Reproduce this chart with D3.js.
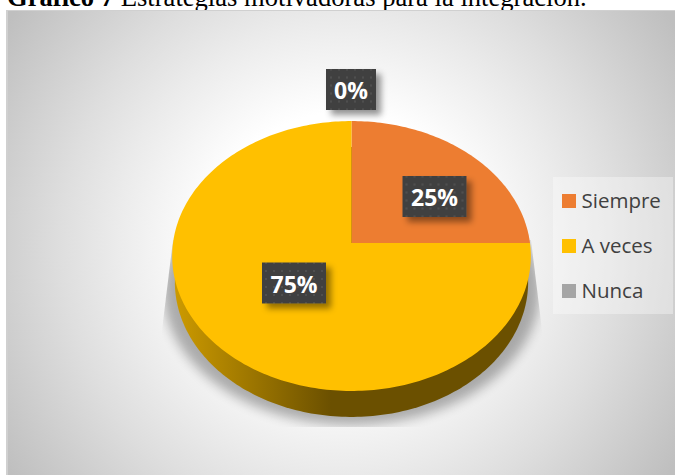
<!DOCTYPE html>
<html><head><meta charset="utf-8">
<script src="https://cdn.jsdelivr.net/npm/d3@7/dist/d3.min.js"></script>
<style>html,body{margin:0;padding:0;background:#fff;overflow:hidden}svg{display:block}</style>
</head><body><svg id="c" width="675" height="475"></svg>
<script>
const categories = ["Siempre", "A veces", "Nunca"];
const values = [25, 75, 0];
const colors = ["#ED7D31", "#FFC000", "#A5A5A5"];
const svg = d3.select("#c");
const defs = svg.append("defs");
const bg = defs.append("radialGradient").attr("id","bg").attr("gradientUnits","userSpaceOnUse")
  .attr("cx",340).attr("cy",245).attr("r",400);
[[0.33,"#ffffff"],[0.56,"#ebebeb"],[0.7,"#dedede"],[1,"#bfbfbf"]].forEach(s=>bg.append("stop").attr("offset",s[0]).attr("stop-color",s[1]));
const wallG = defs.append("linearGradient").attr("id","wall").attr("gradientUnits","userSpaceOnUse")
  .attr("x1",175).attr("x2",530).attr("y1",0).attr("y2",0);
wallG.append("stop").attr("offset",0).attr("stop-color","#cc9a00");
wallG.append("stop").attr("offset",0.44).attr("stop-color","#6b5000");
wallG.append("stop").attr("offset",1).attr("stop-color","#6b5000");
const blur = defs.append("filter").attr("id","blur").attr("x","-20%").attr("y","-20%").attr("width","140%").attr("height","140%");
blur.append("feGaussianBlur").attr("stdDeviation",6);
const ds = defs.append("filter").attr("id","ds").attr("x","-30%").attr("y","-30%").attr("width","170%").attr("height","170%");
ds.append("feDropShadow").attr("dx",5).attr("dy",5).attr("stdDeviation",3).attr("flood-color","#000").attr("flood-opacity",0.42);
const pat = defs.append("pattern").attr("id","dots").attr("patternUnits","userSpaceOnUse").attr("width",8).attr("height",8);
pat.append("rect").attr("width",8).attr("height",8).attr("fill","#404040");
pat.append("rect").attr("x",3).attr("y",3).attr("width",2).attr("height",2).attr("fill","#505050");
defs.append("clipPath").attr("id","shclip").append("path").attr("d","M173,240L531,240L542,330L542,427L162,427L162,330Z");

svg.append("text").attr("x",7).attr("y",6).attr("font-family","Liberation Serif").attr("font-size",26.6).attr("fill","#000")
  .call(t=>{t.append("tspan").attr("font-weight","bold").text("Gráfico 7 ");t.append("tspan").text("Estrategias motivadoras para la integración.");});
svg.append("rect").attr("x",6).attr("y",10).attr("width",669).attr("height",465).attr("fill","#d0d0d0");
svg.append("rect").attr("x",8).attr("y",11).attr("width",667).attr("height",464).attr("fill","url(#bg)");

// perspective mapping of the pie circle
const cx=351.5, cy=243, k=0.0963, a=133.7, b=178.5;
const px=(an,s=1,dx=0,dy=0)=>{const x=Math.sin(an),y=-Math.cos(an),w=1-k*y;return [cx+dx+s*b*x/w, cy+dy+a*y/w];};
const arcs=d3.pie().sort(null).value(d=>d)(values);
const line=d3.line();
const samples=(s,e)=>{const n=Math.max(2,Math.ceil((e-s)/0.02));return d3.range(n+1).map(i=>s+(e-s)*i/n);};
const full=samples(0,2*Math.PI);

// shadow
svg.append("g").attr("clip-path","url(#shclip)").append("path")
  .attr("d",line(full.map(t=>px(t,1.05,0,34)))+"Z").attr("fill","#000").attr("opacity",0.3).attr("filter","url(#blur)");

// wall: the lower face of the pie
svg.append("path").attr("d",line(full.map(t=>px(t,0.985,0,26)))+"Z").attr("fill","url(#wall)");

// slices
svg.append("g").selectAll("path").data(arcs).join("path")
 .attr("d",d=>d.endAngle-d.startAngle<1e-6?null:line([[cx,cy]].concat(samples(d.startAngle,d.endAngle).map(t=>px(t))))+"Z")
 .attr("fill",(d,i)=>colors[i]);

// labels
const labelPos=[[434.5,196.5],[294,283],[351,89.5]];
const lg=svg.append("g");
arcs.forEach((d,i)=>{
  const w=i==2?50:64,h=41;
  const g=lg.append("g").attr("transform",`translate(${labelPos[i][0]},${labelPos[i][1]})`);
  g.append("rect").attr("x",-w/2).attr("y",-h/2).attr("width",w).attr("height",h).attr("fill","url(#dots)").attr("filter","url(#ds)");
  g.append("text").attr("text-anchor","middle").attr("y",9.5).attr("font-family","Open Sans").attr("font-weight","bold").attr("font-size",23).attr("fill","#fff").text(values[i]+"%");
});

// legend
svg.append("rect").attr("x",553).attr("y",177).attr("width",120).attr("height",137).attr("fill","#fff").attr("opacity",0.35);
const y=d3.scalePoint().domain(categories).range([201,291]);
const lgd=svg.append("g").selectAll("g").data(categories).join("g").attr("transform",d=>`translate(562,${y(d)})`);
lgd.append("rect").attr("y",-7).attr("width",14).attr("height",14).attr("fill",(d,i)=>colors[i]);
lgd.append("text").attr("x",19.5).attr("y",6.5).attr("font-family","Open Sans").attr("font-size",20.5).attr("fill","#404040").text(d=>d);
</script></body></html>
